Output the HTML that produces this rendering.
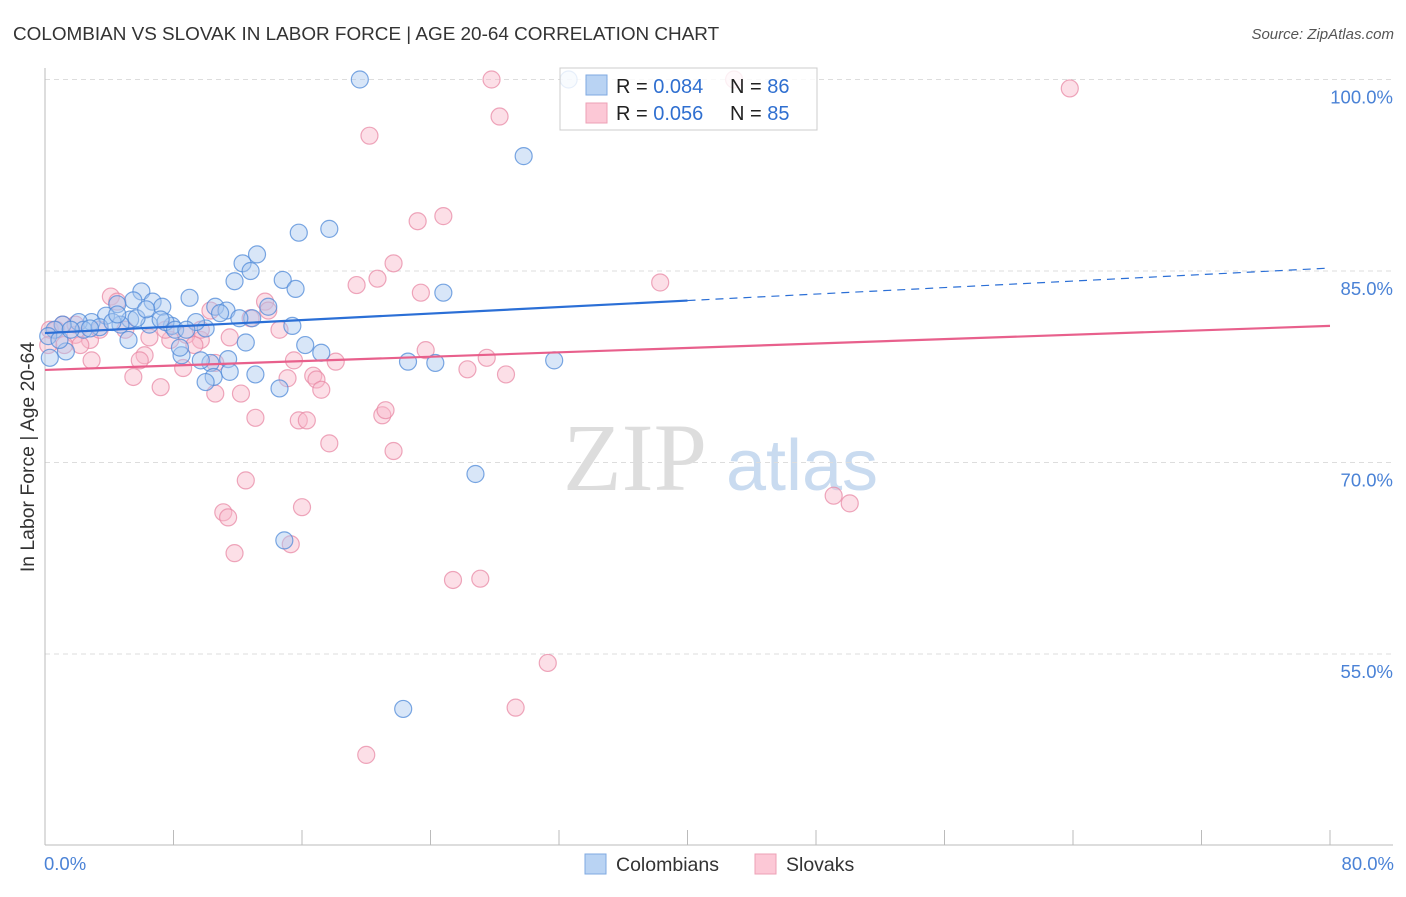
<!DOCTYPE html>
<html><head><meta charset="utf-8"><style>
body{margin:0;background:#fff;font-family:"Liberation Sans",sans-serif}
svg text{font-family:"Liberation Sans",sans-serif}
</style></head><body>
<svg id="chart" width="1406" height="892" xmlns="http://www.w3.org/2000/svg">
<text x="13" y="40" font-size="18.9" fill="#333">COLOMBIAN VS SLOVAK IN LABOR FORCE | AGE 20-64 CORRELATION CHART</text>
<text x="1394" y="39" font-size="15" fill="#555" text-anchor="end" font-style="italic">Source: ZipAtlas.com</text>
<text transform="translate(34,457) rotate(-90)" font-size="19.4" fill="#333" text-anchor="middle">In Labor Force | Age 20-64</text>
<g>
<text x="635" y="490" font-size="96" fill="#ddd" text-anchor="middle" font-family="Liberation Serif" style="font-family:'Liberation Serif',serif">ZIP</text>
<text x="802" y="490" font-size="72" fill="#c9dbf0" text-anchor="middle">atlas</text>
</g>
<g id="grid"></g><g id="axes"></g><g id="pts"></g><g id="lines"></g>
<g>
<rect x="560" y="68" width="257" height="62" fill="#fff" fill-opacity="0.82" stroke="#ccc"/>
<rect x="586" y="75" width="21" height="20" fill="#b9d3f3" stroke="#7fa9e0"/>
<rect x="586" y="103" width="21" height="20" fill="#fcc8d6" stroke="#eda0b6"/>
<text x="616" y="93" font-size="20" fill="#222">R = <tspan fill="#2f6fd0">0.084</tspan><tspan x="730">N = </tspan><tspan fill="#2f6fd0">86</tspan></text>
<text x="616" y="120" font-size="20" fill="#222">R = <tspan fill="#2f6fd0">0.056</tspan><tspan x="730">N = </tspan><tspan fill="#2f6fd0">85</tspan></text>
</g>
<g>
<rect x="585" y="854" width="21" height="20" fill="#b9d3f3" stroke="#7fa9e0"/>
<text x="616" y="871" font-size="19.5" fill="#333">Colombians</text>
<rect x="755" y="854" width="21" height="20" fill="#fcc8d6" stroke="#eda0b6"/>
<text x="786" y="871" font-size="19.5" fill="#333">Slovaks</text>
</g>
</svg>
<script>
const yTicks=[100,85,70,55];
const yTickLabels=["100.0%","85.0%","70.0%","55.0%"];
const xTickLabels=["0.0%","80.0%"];
const blueX=[19.6,32.6,29.8,15.8,17.7,13.2,12.3,12.8,11.8,14.8,15.6,24.8,6.0,9.0,6.7,7.3,5.5,4.5,10.6,11.3,10.9,13.9,12.9,12.1,15.4,10.0,9.4,7.9,6.5,5.3,3.8,2.9,2.1,1.1,0.6,0.2,0.3,1.3,2.4,3.4,4.7,5.7,7.5,8.1,12.5,16.2,17.2,8.5,10.3,11.4,8.4,9.7,11.5,13.1,10.5,10.0,14.6,22.6,24.3,31.7,26.8,14.9,22.3,5.2,4.2,0.9,2.8,1.6,7.2,8.8,4.5,6.3];
const blueY=[100.0,100.0,94.0,88.0,88.3,86.3,85.6,85.0,84.2,84.3,83.6,83.3,83.4,82.9,82.6,82.2,82.7,82.4,82.2,81.9,81.7,82.2,81.3,81.3,80.7,80.5,81.0,80.7,80.8,81.2,81.5,81.0,81.0,80.8,80.4,79.9,78.2,78.7,80.4,80.6,80.8,81.3,81.0,80.4,79.4,79.2,78.6,78.4,77.8,78.1,79.0,78.0,77.1,76.9,76.7,76.3,75.8,77.9,77.8,78.0,69.1,63.9,50.7,79.6,81.0,79.6,80.5,80.4,81.2,80.4,81.6,82.0];
const pinkX=[27.8,63.8,42.9,28.3,20.2,24.8,23.2,21.7,20.7,19.4,23.4,38.3,4.1,4.5,13.7,13.9,12.8,10.3,14.6,11.5,6.5,7.8,9.7,8.8,0.7,1.9,2.8,3.4,5.0,1.2,2.9,6.2,5.9,8.6,10.6,15.5,18.1,23.7,27.5,26.3,28.7,16.7,16.9,15.1,17.2,5.5,7.2,10.6,12.2,13.1,15.8,16.3,21.0,21.2,17.7,21.7,12.5,11.1,11.4,16.0,11.8,15.3,25.4,27.1,31.3,29.3,20.0,49.1,50.1,0.3,0.2,2.2,1.1,7.5,9.3,9.7,1.9];
const pinkY=[100.0,99.3,100.0,97.1,95.6,89.3,88.9,85.6,84.4,83.9,83.3,84.1,83.0,82.6,82.6,81.9,81.3,81.9,80.4,79.8,79.8,79.6,79.6,80.0,80.4,80.0,79.6,80.4,80.4,79.2,78.0,78.4,78.0,77.4,77.8,78.0,77.9,78.8,78.2,77.3,76.9,76.8,76.5,76.6,75.7,76.7,75.9,75.4,75.4,73.5,73.3,73.3,73.7,74.1,71.5,70.9,68.6,66.1,65.7,66.5,62.9,63.6,60.8,60.9,54.3,50.8,47.1,67.4,66.8,80.4,79.2,79.2,80.8,80.4,79.2,80.4,80.8];
const blueTrend=[80.14,85.23];
const pinkTrend=[77.25,80.70];
const X0=45,X1=1330,Y100=79.5,PXPER=12.767;
const sx=v=>X0+(v/80)*(X1-X0);
const sy=v=>Y100+(100-v)*PXPER;
const NS="http://www.w3.org/2000/svg";
function mk(t,a,p){const e=document.createElementNS(NS,t);for(const k in a)e.setAttribute(k,a[k]);p.appendChild(e);return e;}
const grid=document.getElementById('grid'),axes=document.getElementById('axes'),pts=document.getElementById('pts'),lines=document.getElementById('lines');
yTicks.forEach((v,i)=>{
 const l=mk('line',{x1:X0,x2:1393,y1:sy(v),y2:sy(v),stroke:'#ddd','stroke-dasharray':'5,4'},grid);
 
 
 const t=mk('text',{x:1393,y:sy(v)+24,'font-size':18.5,fill:'#4a82d6','text-anchor':'end'},axes);
 t.textContent=yTickLabels[i];
 
 
});
let a=mk('line',{x1:X0,x2:X0,y1:68,y2:845,stroke:'#bbb'},axes);


a=mk('line',{x1:X0,x2:1393,y1:845,y2:845,stroke:'#bbb'},axes);


for(let i=0;i<=10;i++){const v=i*8;
 const t=mk('line',{x1:sx(v),x2:sx(v),y1:830,y2:845,stroke:'#bbb'},axes);
 
 
}
[[0,'start',44],[80,'end',1394]].forEach((d,i)=>{
 const t=mk('text',{x:d[2],y:870,'font-size':18.5,fill:'#4a82d6','text-anchor':d[1]},axes);
 t.textContent=xTickLabels[i];
 
 
});
function dots(X,Y,fill,stroke,name){X.forEach((x,i)=>{
 const c=mk('circle',{cx:sx(x),cy:sy(Y[i]),r:8.5,fill:fill,'fill-opacity':0.45,stroke:stroke,'stroke-opacity':0.75,'stroke-width':1.2},pts);
 
 
});}
dots(pinkX,pinkY,'#f8b8c9','#e88aa6','slovak-point');
dots(blueX,blueY,'#a9c8f0','#4f8ad8','colombian-point');
let ln=mk('line',{x1:sx(0),y1:sy(blueTrend[0]),x2:sx(40),y2:sy(blueTrend[0]+(blueTrend[1]-blueTrend[0])*0.5),stroke:'#2b6fd6','stroke-width':2.2},lines);


ln=mk('line',{x1:sx(40),y1:sy(blueTrend[0]+(blueTrend[1]-blueTrend[0])*0.5),x2:sx(80),y2:sy(blueTrend[1]),stroke:'#2b6fd6','stroke-width':1.2,'stroke-dasharray':'8,6'},lines);


ln=mk('line',{x1:sx(0),y1:sy(pinkTrend[0]),x2:sx(80),y2:sy(pinkTrend[1]),stroke:'#e8608c','stroke-width':2.2},lines);


</script>
</body></html>
